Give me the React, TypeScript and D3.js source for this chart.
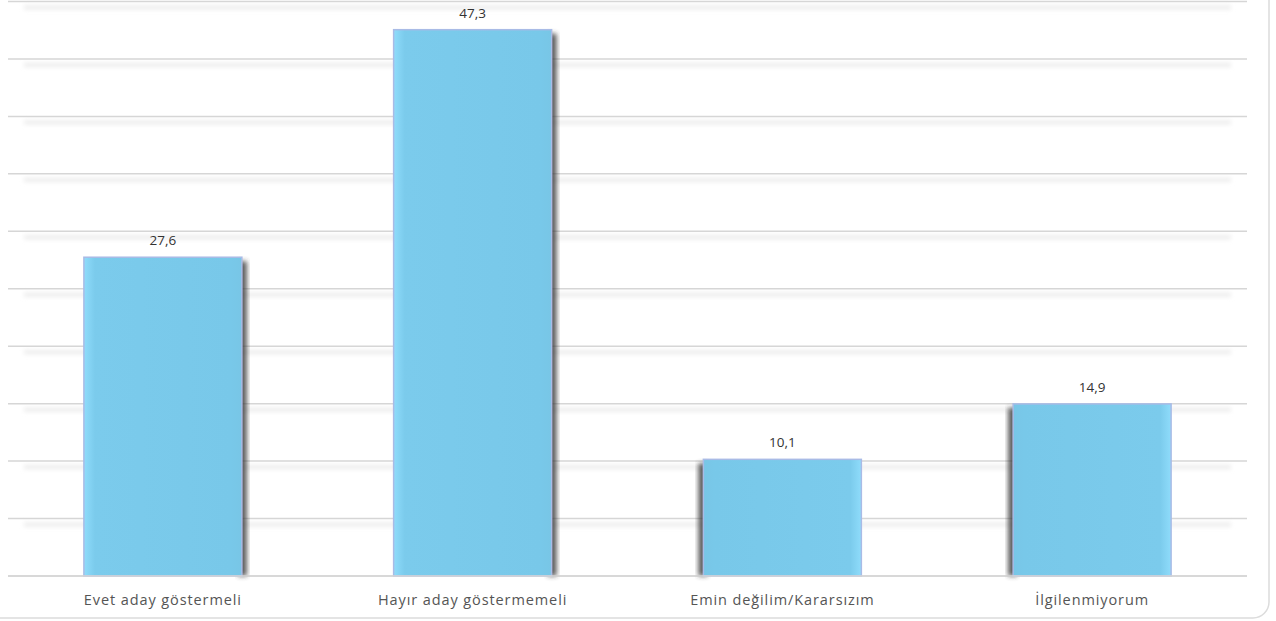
import React from "react";
import * as d3 from "d3";

const categories = ["Evet aday göstermeli", "Hayır aday göstermemeli", "Emin değilim/Kararsızım", "İlgilenmiyorum"];
const values = [27.6, 47.3, 10.1, 14.9];
const labels = ["27,6", "47,3", "10,1", "14,9"];
const gridTicks = [0, 5, 10, 15, 20, 25, 30, 35, 40, 45, 50];

const W = 1276;
const H = 621;
const left = 8;
const right = 1247;
const top = 1.5;
const bottom = 576;

export default function App() {
  const x = d3.scaleBand<string>().domain(categories).range([left, right]).paddingInner(0.49).paddingOuter(0.245);
  const y = d3.scaleLinear().domain([0, 50]).range([bottom, -1.5]);
  const gy = d3.scaleLinear().domain([0, 50]).range([bottom, top]);
  const bw = x.bandwidth();
  return (
    <svg width={W} height={H} style={{ position: "absolute", left: 0, top: 0, display: "block", background: "#fff" }}>
      <defs>
        <filter id="blur" filterUnits="userSpaceOnUse" x="0" y="-20" width={W} height={H + 40}>
          <feGaussianBlur stdDeviation="2" />
        </filter>
        <filter id="sh" x="-30%" y="-10%" width="160%" height="120%">
          <feGaussianBlur stdDeviation="2.5" />
        </filter>
        <linearGradient id="gL" x1="0" x2="1" y1="0" y2="0">
          <stop offset="0" stopColor="#8fdcfb" />
          <stop offset="0.07" stopColor="#7bcbec" />
          <stop offset="0.93" stopColor="#78c8e9" />
          <stop offset="1" stopColor="#78c6e6" />
        </linearGradient>
        <linearGradient id="gR" x1="0" x2="1" y1="0" y2="0">
          <stop offset="0" stopColor="#78c6e6" />
          <stop offset="0.07" stopColor="#78c8e9" />
          <stop offset="0.93" stopColor="#7bcbec" />
          <stop offset="1" stopColor="#8fdcfb" />
        </linearGradient>
      </defs>
      {/* card */}
      <rect x={-20} y={-20} width={1289} height={638} rx={16} ry={16} fill="none" stroke="#dcdcdc" strokeWidth={1.5} />
      {/* grid */}
      {gridTicks.map((t) => (
        <g key={t}>
          {t !== 0 && (
            <rect x={left + 16} width={right - left - 32} y={gy(t) + 4} height={4} fill="#ececec" filter="url(#blur)" />
          )}
          <line x1={left} x2={right} y1={gy(t)} y2={gy(t)} stroke="#d6d6d6" strokeWidth={1.5} />
        </g>
      ))}
      {/* bars */}
      {categories.map((c, i) => {
        const bx = x(c)!;
        const by = y(values[i]);
        const h = bottom - by;
        const leftSide = i >= 2;
        return (
          <g key={c}>
            <rect
              x={leftSide ? bx - 5 : bx + bw - 4}
              y={by + 4}
              width={9}
              height={h - 4}
              fill="#333"
              opacity={0.8}
              filter="url(#sh)"
            />
            <rect x={bx} y={by} width={bw} height={h} fill={leftSide ? "url(#gR)" : "url(#gL)"} stroke="#a9bbe6" strokeWidth={1.5} />
            <text x={bx + bw / 2} y={by - 12} textAnchor="middle" fontFamily="'Open Sans', sans-serif" fontSize={13.5} fill="#333">
              {labels[i]}
            </text>
          </g>
        );
      })}
      <line x1={left} x2={right} y1={bottom} y2={bottom} stroke="#d6d6d6" strokeWidth={1.5} />
      {/* category labels */}
      {categories.map((c) => (
        <text
          key={c}
          x={x(c)! + bw / 2}
          y={605}
          textAnchor="middle"
          fontFamily="'Open Sans', sans-serif"
          fontSize={14.5}
          fill="#555"
          letterSpacing={0.9}
        >
          {c}
        </text>
      ))}
    </svg>
  );
}
